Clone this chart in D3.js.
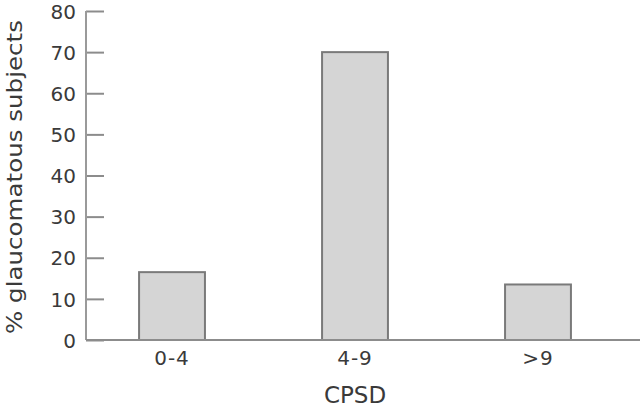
<!DOCTYPE html>
<html>
<head>
<meta charset="utf-8">
<script src="https://cdn.jsdelivr.net/npm/d3@7"></script>
<style>
  body { margin: 0; background: #fff; }
  text { font-family: "DejaVu Sans", "Liberation Sans", Arial, sans-serif; fill: #3a3a3a; }
</style>
</head>
<body>
<div class="content"></div>
<script>
var size = {width: 640, height: 411};
var padding = {left: 86, right: 16, top: 11, bottom: 71};

var categories = ["0-4", "4-9", ">9"];
var values = [16.5, 70, 13.5];
var yTicks = [0, 10, 20, 30, 40, 50, 60, 70, 80];

var chart = d3.select('.content')
    .append('svg')
    .attr('width', size.width)
    .attr('height', size.height);

var xScale = d3.scaleBand()
    .domain(categories)
    .range([padding.left, size.width - padding.right])
    .paddingInner(0.64)
    .paddingOuter(0.29);

var yScale = d3.scaleLinear()
    .domain([0, 80])
    .range([size.height - padding.bottom, padding.top]);

// bars
chart.append('g').selectAll('rect')
    .data(values)
    .enter().append('rect')
    .attr('x', function(d, i) { return xScale(categories[i]); })
    .attr('y', function(d) { return yScale(d); })
    .attr('width', xScale.bandwidth())
    .attr('height', function(d) { return yScale(0) - yScale(d); })
    .attr('fill', '#d5d5d5')
    .attr('stroke', '#7a7a7a')
    .attr('stroke-width', 2);

// y axis, ticks point inward
var yAxis = d3.axisRight(yScale).tickValues(yTicks).tickSize(18).tickFormat(d3.format('d'));
var yAxisObj = chart.append('g')
    .attr('transform', 'translate(' + padding.left + ',0)')
    .call(yAxis);
yAxisObj.select('.domain').remove();
yAxisObj.selectAll('line').attr('stroke', '#8c8c8c').attr('stroke-width', 2);
yAxisObj.selectAll('text')
    .attr('x', -10)
    .attr('dy', '0.36em')
    .attr('text-anchor', 'end')
    .attr('font-size', 20)
    .style('font-family', '"DejaVu Sans", sans-serif')
    .style('fill', '#3a3a3a');

chart.append('line')
    .attr('x1', padding.left).attr('x2', padding.left)
    .attr('y1', yScale(80)).attr('y2', yScale(0))
    .attr('stroke', '#9a9a9a').attr('stroke-width', 2);

// x axis baseline
chart.append('line')
    .attr('x1', padding.left).attr('x2', size.width)
    .attr('y1', yScale(0)).attr('y2', yScale(0))
    .attr('stroke', '#8c8c8c').attr('stroke-width', 2);

var xAxis = d3.axisBottom(xScale).tickSize(0).tickPadding(11);
var xAxisObj = chart.append('g')
    .attr('transform', 'translate(0,' + yScale(0) + ')')
    .call(xAxis);
xAxisObj.select('.domain').remove();
xAxisObj.selectAll('text')
    .attr('font-size', 20)
    .style('font-family', '"DejaVu Sans", sans-serif')
    .style('letter-spacing', '1px')
    .style('fill', '#3a3a3a');

// axis titles
chart.append('text')
    .attr('x', xScale('4-9') + xScale.bandwidth() / 2)
    .attr('y', 403)
    .attr('text-anchor', 'middle')
    .attr('font-size', 23)
    .text('CPSD');

chart.append('text')
    .attr('transform', 'translate(22,177) rotate(-90)')
    .attr('text-anchor', 'middle')
    .attr('font-size', 22)
    .attr('textLength', 314)
    .attr('lengthAdjust', 'spacingAndGlyphs')
    .text('% glaucomatous subjects');
</script>
</body>
</html>
